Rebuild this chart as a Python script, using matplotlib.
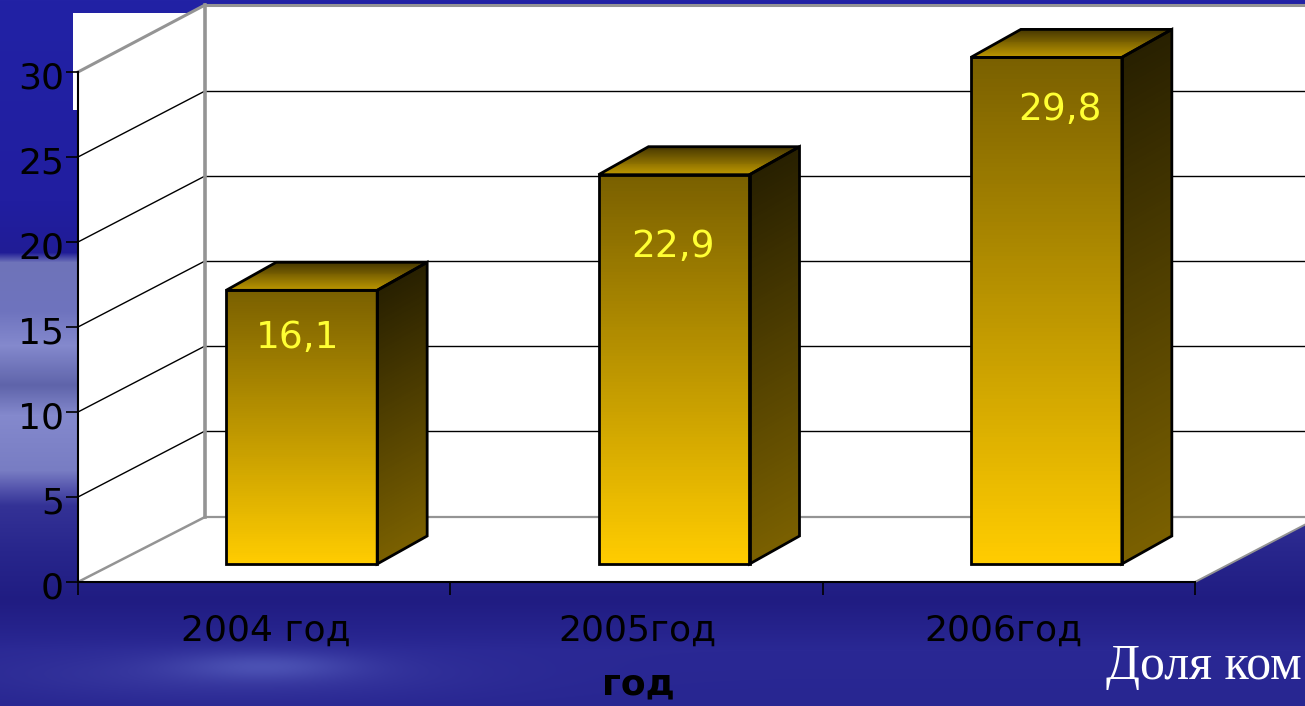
import numpy as np
import matplotlib
matplotlib.use("Agg")
import matplotlib.pyplot as plt
from matplotlib.patches import Polygon, Rectangle
from matplotlib.transforms import ScaledTranslation

categories = ["2004 год", "2005год", "2006год"]
values = [16.1, 22.9, 29.8]
value_labels = ["16,1", "22,9", "29,8"]
y_ticks = [0, 5, 10, 15, 20, 25, 30]

W, H = 1305, 706
X0, X1, Y0, Y30 = 78, 1195, 582, 72
PX_X = 3 / (X1 - X0)
PX_Y = 30 / (Y0 - Y30)


def dx(p):
    return (p - X0) * PX_X


def dy(p):
    return (Y0 - p) * PX_Y


def lerp(c0, c1, n=120):
    t = np.linspace(0, 1, n)[:, None]
    return np.array(c0) / 255 * (1 - t) + np.array(c1) / 255 * t


fig = plt.figure(figsize=(W / 100, H / 100), dpi=100)

# slide background
bg = fig.add_axes([0, 0, 1, 1], zorder=-1)
bg.axis("off")
ys = np.arange(H)
xs = np.arange(W)
stops = [0, 200, 252, 262, 310, 345, 385, 415, 470, 490, 505, 550, 600, 650, 706]
r = np.interp(ys, stops, [34, 33, 32, 110, 110, 132, 95, 132, 120, 80, 52, 40, 32, 42, 40])
g = np.interp(ys, stops, [34, 30, 28, 115, 115, 137, 100, 137, 125, 80, 50, 38, 28, 40, 38])
b = np.interp(ys, stops, [165, 160, 150, 185, 190, 205, 170, 205, 195, 170, 150, 140, 130, 148, 145])
img = np.dstack([np.repeat(c[:, None], W, axis=1) for c in (r, g, b)])
XX, YY = np.meshgrid(xs, ys)
streak = np.exp(-((XX - 265) / 90.0) ** 2 - ((YY - 665) / 14.0) ** 2)
wide = np.exp(-((XX - 230) / 220.0) ** 2 - ((YY - 675) / 24.0) ** 2)
for k, (a, c) in enumerate([(22, 14), (28, 16), (22, 12)]):
    img[..., k] += a * streak + c * wide
bg.imshow(np.clip(img, 0, 255).astype(np.uint8), extent=(0, W, H, 0), aspect="auto",
          interpolation="bilinear")

ax = fig.add_axes([X0 / W, 1 - Y0 / H, (X1 - X0) / W, (Y0 - Y30) / H])
ax.patch.set_alpha(0)
ax.set_xlim(0, 3)
ax.set_ylim(0, 30)

GREY = "#949494"
BACK_X, BACK_UP = 127, 66
# white panels
ax.add_patch(Rectangle((dx(73), dy(110)), dx(210) - dx(73), dy(13) - dy(110), fc="white",
                       ec="none", clip_on=False, zorder=0.5))
ax.add_patch(Polygon([(dx(205), dy(5)), (dx(W + 5), dy(5)), (dx(W + 5), dy(517)), (dx(205), dy(517))],
                     fc="white", ec="none", clip_on=False, zorder=0.6))
ax.add_patch(Polygon([(dx(78), dy(72)), (dx(205), dy(5)), (dx(205), dy(517)), (dx(78), dy(582))],
                     fc="white", ec="none", clip_on=False, zorder=0.6))
ax.add_patch(Polygon([(dx(78), dy(582)), (dx(205), dy(517)), (dx(W + 5), dy(517)), (dx(W + 5), dy(522)),
                      (dx(1195), dy(582))],
                     fc="white", ec="none", clip_on=False, zorder=0.6))

# gridlines on walls
for v in y_ticks[1:-1]:
    ax.plot([0, dx(78 + BACK_X)], [v, v + BACK_UP * PX_Y], color="black", lw=1.0,
            clip_on=False, zorder=1)
    ax.plot([dx(78 + BACK_X), dx(W + 5)], [v + BACK_UP * PX_Y] * 2, color="black", lw=1.0,
            clip_on=False, zorder=1)

# wall edges
ax.plot([0, dx(205)], [30, dy(5)], color=GREY, lw=2.2, clip_on=False, zorder=1.2)
ax.plot([dx(205), dx(W + 5)], [dy(5), dy(5)], color=GREY, lw=2.2, clip_on=False, zorder=1.2)
ax.plot([dx(205), dx(205)], [dy(5), dy(517)], color=GREY, lw=2.6, clip_on=False, zorder=1.2)
ax.plot([0, dx(205)], [0, dy(517)], color=GREY, lw=1.8, clip_on=False, zorder=1.2)
ax.plot([dx(205), dx(W + 5)], [dy(517), dy(517)], color=GREY, lw=1.6, clip_on=False, zorder=1.2)
ax.plot([3, dx(W + 5)], [0, dy(522)], color=GREY, lw=1.4, clip_on=False, zorder=1.2)

# bars
BASE = 18 * PX_Y
OFF = 37.5 * PX_X
HALF = 75.5 * PX_X
DEPTH_X, DEPTH_Y = 50 * PX_X, 28 * PX_Y
LABEL_X = [-4.5, -1.5, 13.5]
LABEL_DROP = [48, 72, 53]

for i, v in enumerate(values):
    c = i + 0.5 + OFF
    x0, x1 = c - HALF, c + HALF
    y0, y1 = BASE, BASE + v
    front = lerp((255, 204, 0), (122, 96, 0))
    side = lerp((122, 96, 0), (40, 32, 0))
    top = lerp((190, 152, 0), (70, 55, 0), 30)

    u = np.linspace(0, 1, 121)
    XF = np.array([[x0, x1]] * 121)
    YF = np.column_stack([y0 + u * v, y0 + u * v])
    ax.pcolormesh(XF, YF, front[:, None, :], shading="flat", clip_on=False, zorder=3,
                  antialiased=False)
    XS = np.column_stack([np.full(121, x1), np.full(121, x1 + DEPTH_X)])
    YS = np.column_stack([y0 + u * v, y0 + DEPTH_Y + u * v])
    ax.pcolormesh(XS, YS, side[:, None, :], shading="flat", clip_on=False, zorder=3,
                  antialiased=False)
    t = np.linspace(0, 1, 31)
    XT = np.column_stack([x0 + t * DEPTH_X, x1 + t * DEPTH_X])
    YT = np.column_stack([y1 + t * DEPTH_Y, y1 + t * DEPTH_Y])
    ax.pcolormesh(XT, YT, top[:, None, :], shading="flat", clip_on=False, zorder=3,
                  antialiased=False)

    edge = dict(fc="none", ec="black", lw=2.0, clip_on=False, zorder=4, joinstyle="miter")
    ax.add_patch(Polygon([(x0, y0), (x1, y0), (x1, y1), (x0, y1)], **edge))
    ax.add_patch(Polygon([(x1, y0), (x1 + DEPTH_X, y0 + DEPTH_Y), (x1 + DEPTH_X, y1 + DEPTH_Y), (x1, y1)], **edge))
    ax.add_patch(Polygon([(x0, y1), (x1, y1), (x1 + DEPTH_X, y1 + DEPTH_Y), (x0 + DEPTH_X, y1 + DEPTH_Y)], **edge))

    ax.text(c + LABEL_X[i] * PX_X, y1 - LABEL_DROP[i] * PX_Y, value_labels[i],
            color="#ffff33", fontsize=27, ha="center", va="center", zorder=5, family="DejaVu Sans")

# axes
for s in ("top", "right"):
    ax.spines[s].set_visible(False)
for s in ("left", "bottom"):
    ax.spines[s].set_color("black")
    ax.spines[s].set_linewidth(1.5)
    ax.spines[s].set_zorder(2)
ax.set_yticks(y_ticks)
ax.set_yticklabels([str(t) for t in y_ticks], fontsize=26, color="black", family="DejaVu Sans")
ax.tick_params(axis="y", length=9, width=1.2, pad=1, color="black")
ax.set_xticks([0, 1, 2, 3])
ax.set_xticklabels([])
ax.set_xticks([0.5, 1.5, 2.5], minor=True)
ax.set_xticklabels(categories, minor=True, fontsize=26, color="black", family="DejaVu Sans")
ax.tick_params(axis="x", which="major", length=9, width=1.2, color="black")
ax.tick_params(axis="x", which="minor", length=0, pad=23)

for lab in ax.get_yticklabels():
    lab.set_transform(lab.get_transform() + ScaledTranslation(0, -3 / 100, fig.dpi_scale_trans))
LABEL_SHIFT = [2, 1, -5]
for lab, s in zip(ax.get_xticklabels(minor=True), LABEL_SHIFT):
    lab.set_transform(lab.get_transform() + ScaledTranslation(s / 100, 0, fig.dpi_scale_trans))

ax.set_xlabel("год", fontsize=26, fontweight="bold", color="black", family="DejaVu Sans", labelpad=14, x=0.5018)

fig.text(1106 / W, 1 - 679 / H, "Доля ком", color="white", fontsize=36, family="Liberation Serif",
         ha="left", va="baseline")

fig.savefig("out.png", dpi=100)
